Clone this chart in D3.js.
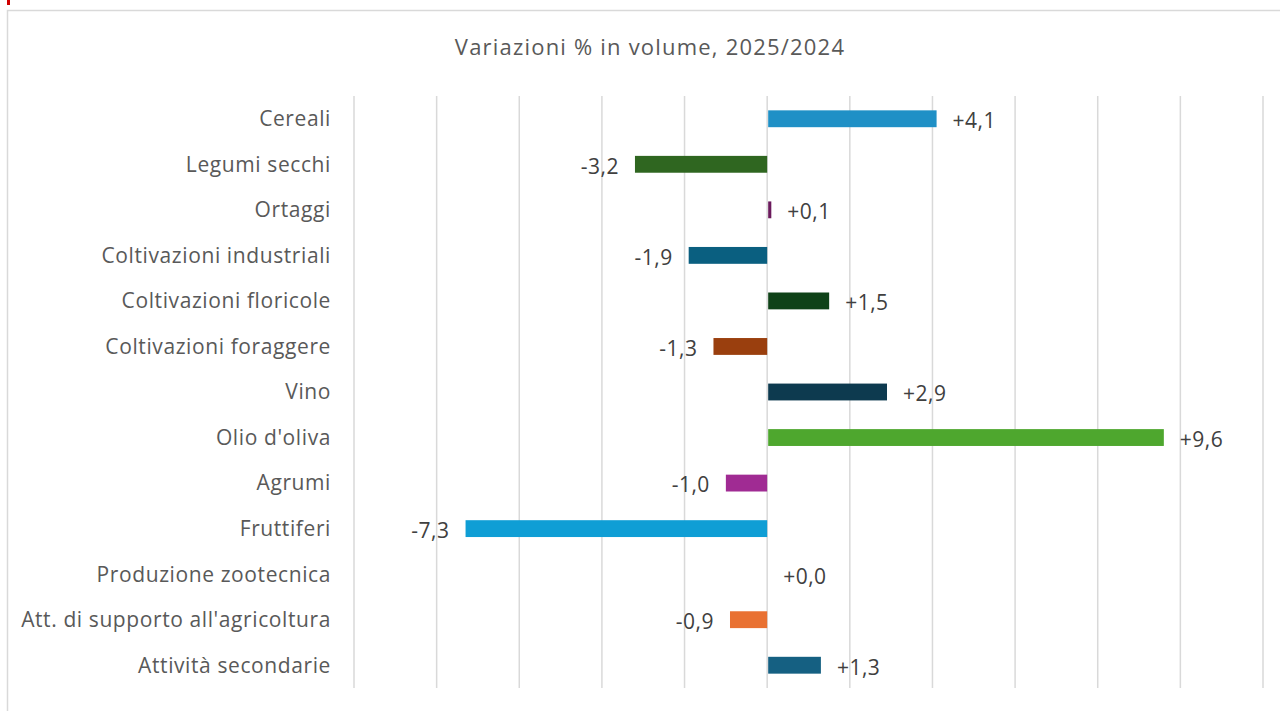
<!DOCTYPE html>
<html>
<head>
<meta charset="utf-8">
<script src="https://cdn.jsdelivr.net/npm/d3@7"></script>
<style>
  body { margin: 0; background: #fff; }
  svg { display: block; font-family: "Open Sans", sans-serif; }
</style>
</head>
<body>
<script>
const w = 1280;
const h = 711;

// data
const categories = [
  "Cereali", "Legumi secchi", "Ortaggi", "Coltivazioni industriali",
  "Coltivazioni floricole", "Coltivazioni foraggere", "Vino", "Olio d'oliva",
  "Agrumi", "Fruttiferi", "Produzione zootecnica",
  "Att. di supporto all'agricoltura", "Attività secondarie"
];
const values = [4.1, -3.2, 0.1, -1.9, 1.5, -1.3, 2.9, 9.6, -1.0, -7.3, 0.0, -0.9, 1.3];
const colors = [
  "#1f90c6", "#2f6620", "#6b1a5c", "#0a5f80", "#0f4218", "#9a3f0e", "#0d3a4f",
  "#4ea72e", "#a02b93", "#0f9ed5", "#7a7a7a", "#e97132", "#156082"
];
const xTicks = [-10, -8, -6, -4, -2, 0, 2, 4, 6, 8, 10, 12];
const title = "Variazioni % in volume, 2025/2024";

const rows = categories.map((c, i) => ({ name: c, value: values[i], color: colors[i] }));

const svg = d3.select("body").append("svg")
  .attr("width", w)
  .attr("height", h);

// chart frame
svg.append("rect")
  .attr("x", 7.5).attr("y", 10.5)
  .attr("width", 1300).attr("height", 720)
  .attr("fill", "#fff")
  .attr("stroke", "#d9d9d9")
  .attr("stroke-width", 1.5);

svg.append("rect")
  .attr("x", 7).attr("y", 0)
  .attr("width", 3).attr("height", 5)
  .attr("fill", "#d00000");

const x = d3.scaleLinear().domain([-10, 12]).range([354, 1263]);
const y = d3.scaleBand().domain(categories).range([96, 688]).paddingInner(0.63).paddingOuter(0.315);

// gridlines
svg.append("g")
  .selectAll("line")
  .data(xTicks)
  .join("line")
  .attr("x1", d => x(d)).attr("x2", d => x(d))
  .attr("y1", 96).attr("y2", 688)
  .attr("stroke", "#d9d9d9")
  .attr("stroke-width", 1.5);

svg.append("text")
  .attr("x", 650).attr("y", 55)
  .attr("text-anchor", "middle")
  .attr("font-size", 22)
  .attr("letter-spacing", 1.2)
  .attr("fill", "#595959")
  .text(title);

// category labels
svg.append("g")
  .selectAll("text")
  .data(rows)
  .join("text")
  .attr("x", 331)
  .attr("y", d => y(d.name) + y.bandwidth() / 2)
  .attr("dy", "0.35em")
  .attr("text-anchor", "end")
  .attr("font-size", 21)
  .attr("letter-spacing", 0.6)
  .attr("fill", "#595959")
  .text(d => d.name);

// bars
svg.append("g")
  .selectAll("rect")
  .data(rows.filter(d => d.value !== 0))
  .join("rect")
  .attr("x", d => x(Math.min(0, d.value)) + (d.value > 0 ? 1 : 0))
  .attr("y", d => y(d.name))
  .attr("width", d => Math.max(2, Math.abs(x(d.value) - x(0)) - (d.value > 0 ? 1 : 0)))
  .attr("height", y.bandwidth())
  .attr("fill", d => d.color);

const fmt = v => (v >= 0 ? "+" : "-") + d3.format(".1f")(Math.abs(v)).replace(".", ",");

// value labels
svg.append("g")
  .selectAll("text")
  .data(rows)
  .join("text")
  .attr("x", d => d.value >= 0 ? x(d.value) + 16 : x(d.value) - 16)
  .attr("y", d => y(d.name) + y.bandwidth() / 2 + 2)
  .attr("dy", "0.35em")
  .attr("text-anchor", d => d.value >= 0 ? "start" : "end")
  .attr("font-size", 21)
  .attr("letter-spacing", 0.5)
  .attr("fill", "#404040")
  .text(d => fmt(d.value));
</script>
</body>
</html>
